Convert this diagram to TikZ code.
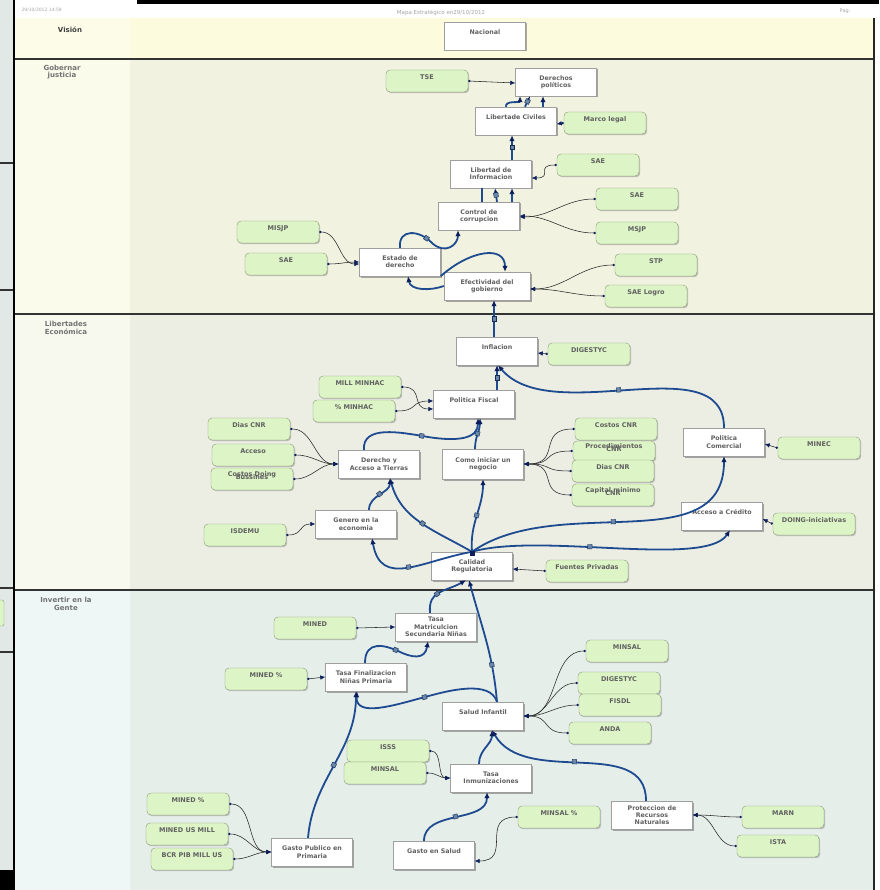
\documentclass[tikz,border=0pt]{standalone}
\usepackage{fontspec}
\setmainfont{DejaVu Sans}
\usetikzlibrary{arrows,arrows.meta,shapes,positioning,shadows,decorations.markings}

\definecolor{bluec}{HTML}{1E4A90}
\definecolor{navy}{HTML}{0C1F5C}
\definecolor{sqc}{HTML}{6A86A8}
\definecolor{greenbox}{HTML}{DDF5C6}
\definecolor{greenline}{HTML}{8C9A78}
\definecolor{txt}{HTML}{606060}
\definecolor{visA}{HTML}{FCFCE8}
\definecolor{visB}{HTML}{FDFBDD}
\definecolor{gobA}{HTML}{FAFBEA}
\definecolor{gobB}{HTML}{F1F2DF}
\definecolor{libA}{HTML}{F7F9EF}
\definecolor{libB}{HTML}{ECEEE4}
\definecolor{invA}{HTML}{EEF6F6}
\definecolor{invB}{HTML}{E6EEEA}
\definecolor{strip}{HTML}{E2E8E6}

\tikzset{
  obj/.style={draw=gray!75, fill=white, minimum width=81pt, minimum height=28pt,
    align=center, inner sep=1pt, text=txt, font=\bfseries\fontsize{6.3}{7.3}\selectfont,
    drop shadow={shadow xshift=1.5pt, shadow yshift=-1.5pt, fill=black!55, opacity=.6}},
  ind/.style={draw=greenline, fill=greenbox, rounded corners=4pt, minimum width=82pt,
    minimum height=22pt, align=center, inner sep=1pt, text=txt,
    font=\bfseries\fontsize{6.5}{7}\selectfont,
    drop shadow={shadow xshift=1.2pt, shadow yshift=-1.2pt, fill=black!45, opacity=.5}},
  lanelab/.style={align=center, text=gray!90!black, font=\bfseries\fontsize{7}{7.5}\selectfont},
  blueline/.style={draw=bluec, line width=1.8pt, -{Latex[length=6pt,width=5.5pt,color=navy]}},
  thinline/.style={draw=black!85, line width=0.55pt,
    {Circle[length=2.4pt,color=navy]}-{Latex[length=5pt,width=4.5pt,color=navy]}},
  midsq/.style={postaction={decorate, decoration={markings,
    mark=at position #1 with {\filldraw[fill=sqc, draw=bluec!60!black, line width=.4pt] (-2.2pt,-2.2pt) rectangle (2.2pt,2.2pt);}}}},
}

\begin{document}
\begin{tikzpicture}[x=1pt, y=-1pt]
\useasboundingbox (0,0) rectangle (879,890);

% % % % % % % % % % % % % % % % page and lanes % % % % % % % % % % % % % % % %
\fill[black] (0,0) rectangle (879,890);
\fill[strip] (0,0) rectangle (13,870);
\draw[black!80, line width=1.5pt] (0,163) -- (13,163);
\draw[black!80, line width=1.5pt] (0,290) -- (13,290);
\draw[black!80, line width=1.5pt] (0,588) -- (13,588);
\draw[black!80, line width=1.5pt] (0,652) -- (13,652);
\fill[greenbox, draw=greenline, rounded corners=2pt] (-4,600) rectangle (4,626);
\fill[white] (14,0) rectangle (137,4);
\fill[white] (14,4) rectangle (879,890);

\fill[visA] (14,18) rectangle (130,58);
\fill[visB] (130,18) rectangle (873,58);
\fill[gobA] (14,60) rectangle (130,313);
\fill[gobB] (130,60) rectangle (873,313);
\fill[libA] (14,315) rectangle (130,589);
\fill[libB] (130,315) rectangle (873,589);
\fill[invA] (14,591) rectangle (130,890);
\fill[invB] (130,591) rectangle (873,890);

\draw[black!80, line width=2.4pt] (14,59) -- (874,59);
\draw[black!80, line width=2.4pt] (14,314) -- (874,314);
\draw[black!80, line width=2.4pt] (14,590) -- (874,590);
\draw[black!85, line width=1.6pt] (874,18) -- (874,890);
\draw[black, line width=1.2pt] (14,0) -- (14,890);

\node[anchor=west, text=gray!70, font=\fontsize{4.5}{5}\selectfont] (fecha) at (18,10) {29/10/2012 14:59};
\node[text=gray!70, font=\fontsize{5.5}{6}\selectfont] (titulo) at (441,13) {Mapa Estratégico en29/10/2012};
\node[text=gray!70, font=\fontsize{5}{6}\selectfont] (pag) at (845,11) {Pag.};

\node[lanelab, text=black!75] (lvis) at (70,30) {Visión};
\node[lanelab] (lgob) at (62,72) {Gobernar\\justicia};
\node[lanelab] (llib) at (66,328) {Libertades\\Económica};
\node[lanelab] (linv) at (66,604) {Invertir en la\\Gente};

% % % % % % % % % % % % % % % % objectives % % % % % % % % % % % % % % % %
\node[obj] (nac) at (485,36) {Nacional\\\mbox{}};
\node[obj] (derpol) at (556,82) {Derechos\\políticos};
\node[obj] (libciv) at (516,121) {Libertade Civiles\\\mbox{}};
\node[obj] (libinf) at (491,174) {Libertad de\\Informacion};
\node[obj] (ctrl) at (479,216) {Control de\\corrupcion};
\node[obj] (estado) at (400,262) {Estado de\\derecho};
\node[obj, minimum width=86pt] (efect) at (487,286) {Efectividad del\\gobierno};
\node[obj] (infl) at (497,351) {Inflacion\\\mbox{}};
\node[obj] (fiscal) at (474,404) {Politica Fiscal\\\mbox{}};
\node[obj] (dertie) at (379,464) {Derecho y\\Acceso a Tierras};
\node[obj, minimum height=30pt] (como) at (483,464) {Como iniciar un\\negocio};
\node[obj] (polcom) at (724,442) {Politica\\Comercial};
\node[obj] (genero) at (356,524) {Genero en la\\economia};
\node[obj] (credito) at (722,516) {Acceso a Crédito\\\mbox{}};
\node[obj] (calidad) at (472,566) {Calidad\\Regulatoria};
\node[obj] (tmat) at (436,627) {Tasa\\Matriculcion\\Secundaria Niñas};
\node[obj] (tfin) at (366,677) {Tasa Finalizacion\\Niñas Primaria};
\node[obj] (salud) at (483,716) {Salud Infantil\\\mbox{}};
\node[obj] (tinm) at (491,778) {Tasa\\Inmunizaciones};
\node[obj] (prot) at (652,815) {Proteccion de\\Recursos\\Naturales};
\node[obj] (gpub) at (312,852) {Gasto Publico en\\Primaria};
\node[obj] (gsal) at (434,855) {Gasto en Salud\\\mbox{}};

% % % % % % % % % % % % % % % % indicators % % % % % % % % % % % % % % % %
\node[ind] (tse) at (427,81) {TSE\\\mbox{}};
\node[ind] (marco) at (605,123) {Marco legal\\\mbox{}};
\node[ind] (saeA) at (598,165) {SAE\\\mbox{}};
\node[ind] (saeB) at (637,199) {SAE\\\mbox{}};
\node[ind] (msjp) at (637,233) {MSJP\\\mbox{}};
\node[ind] (misjp) at (278,232) {MISJP\\\mbox{}};
\node[ind] (saeC) at (286,264) {SAE\\\mbox{}};
\node[ind] (stp) at (656,265) {STP\\\mbox{}};
\node[ind] (saelog) at (646,296) {SAE Logro\\\mbox{}};
\node[ind] (digA) at (589,354) {DIGESTYC\\\mbox{}};
\node[ind] (millmin) at (360,387) {MILL MINHAC\\\mbox{}};
\node[ind] (pcminhac) at (354,411) {\% MINHAC\\\mbox{}};
\node[ind] (diasA) at (249,429) {Dias CNR\\\mbox{}};
\node[ind] (acceso) at (253,455) {Acceso\\\mbox{}};
\node[ind] (costos) at (252,479) {Costos Doing\\[-3.5pt]Bussines\\\mbox{}};
\node[ind] (costcnr) at (616,429) {Costos CNR\\\mbox{}};
\node[ind, minimum height=20pt] (proced) at (614,451) {Procedimientos\\[-3.5pt]CNR\\\mbox{}};
\node[ind] (diasB) at (613,471) {Dias CNR\\\mbox{}};
\node[ind] (capital) at (613,495) {Capital minimo\\[-3.5pt]CNR\\\mbox{}};
\node[ind] (minec) at (819,448) {MINEC\\\mbox{}};
\node[ind] (doing) at (814,524) {DOING-iniciativas\\\mbox{}};
\node[ind] (isdemu) at (245,535) {ISDEMU\\\mbox{}};
\node[ind] (fuentes) at (587,571) {Fuentes Privadas\\\mbox{}};
\node[ind] (mined) at (315,628) {MINED\\\mbox{}};
\node[ind] (minedpc) at (266,679) {MINED \%\\\mbox{}};
\node[ind] (minsalA) at (627,651) {MINSAL\\\mbox{}};
\node[ind] (digB) at (619,683) {DIGESTYC\\\mbox{}};
\node[ind] (fisdl) at (620,705) {FISDL\\\mbox{}};
\node[ind] (anda) at (610,733) {ANDA\\\mbox{}};
\node[ind] (isss) at (388,751) {ISSS\\\mbox{}};
\node[ind] (minsalB) at (385,773) {MINSAL\\\mbox{}};
\node[ind] (minedpcB) at (188,804) {MINED \%\\\mbox{}};
\node[ind] (minedus) at (187,834) {MINED US MILL\\\mbox{}};
\node[ind] (bcr) at (192,859) {BCR PIB MILL US\\\mbox{}};
\node[ind] (minsalpc) at (559,817) {MINSAL \%\\\mbox{}};
\node[ind] (marn) at (783,817) {MARN\\\mbox{}};
\node[ind] (ista) at (778,846) {ISTA\\\mbox{}};

% % % % % % % % % % % % % % % % objective links % % % % % % % % % % % % % % % %
\draw[blueline] ([xshift=-10pt]libciv.north) to[out=100,in=-90] ([xshift=-36pt]derpol.south);
\draw[blueline, midsq=.5] ([xshift=9pt]libciv.north) -- ([xshift=-26pt]derpol.south);
\draw[blueline] ([xshift=27pt]libciv.north) -- ([xshift=-13pt]derpol.south);
\draw[blueline, midsq=.5] ([xshift=21pt]libinf.north) -- ([xshift=-4pt]libciv.south);
\draw[blueline, -] ([xshift=3pt]ctrl.north) -- ([xshift=-9pt]libinf.south);
\draw[blueline, midsq=.5] ([xshift=18pt]ctrl.north) -- ([xshift=4pt]libinf.south);
\draw[blueline] ([xshift=33pt]ctrl.north) -- ([xshift=21pt]libinf.south);
\draw[blueline, midsq=.45] (estado.north) .. controls (398,228) and (420,230) .. (432,243)
  .. controls (445,255) and (458,245) .. ([xshift=-21pt]ctrl.south);
\draw[blueline] (efect.west) to[out=200,in=-80] ([xshift=8pt]estado.south);
\draw[blueline] (estado.south east) .. controls (470,250) and (505,245) .. ([xshift=18pt]efect.north);
\draw[blueline, midsq=.5] ([xshift=-3pt]infl.north) -- ([xshift=7pt]efect.south);

\draw[blueline, midsq=.5] ([xshift=23pt]fiscal.north) -- (infl.south);
\draw[blueline, midsq=.5] (polcom.north) to[out=90,in=-50,looseness=.9] ([xshift=1pt]infl.south);
\draw[blueline, midsq=.5] ([xshift=-8pt]como.north) to[out=90,in=-90] ([xshift=6pt]fiscal.south);
\draw[blueline, midsq=.5] ([xshift=-15pt]dertie.north) .. controls (362,425) and (400,432) .. (428,437)
  .. controls (460,442) and (478,438) .. ([xshift=4pt]fiscal.south);
\draw[blueline, midsq=.55] (calidad.north) to[out=190,in=-80,looseness=1.3] ([xshift=16pt]genero.south);
\draw[blueline, midsq=.5] (calidad.north) to[out=150,in=-75] ([xshift=11pt]dertie.south);
\draw[blueline, midsq=.5] (calidad.north) to[out=95,in=-90] (como.south);
\draw[blueline, midsq=.5] (calidad.north) to[out=35,in=-90] (polcom.south);
\draw[blueline, midsq=.45] (calidad.north) .. controls (540,532) and (705,568) .. ([xshift=8pt]credito.south);
\draw[blueline, midsq=.5] ([xshift=13pt]genero.north) to[out=90,in=-90] ([xshift=11pt]dertie.south);
\fill[navy] ([xshift=-2.5pt,yshift=1pt]calidad.north) rectangle ++(5,5);

\draw[blueline, midsq=.4] ([xshift=-6pt]tmat.north) .. controls (428,590) and (445,592) .. ([xshift=-6pt]calidad.south);
\draw[blueline, midsq=.3] ([xshift=14pt]salud.north) to[out=95,in=-75] ([xshift=-3pt]calidad.south);
\draw[blueline, midsq=.5] ([xshift=-1pt]tfin.north) .. controls (365,640) and (385,645) .. (398,651)
  .. controls (412,658) and (425,660) .. ([xshift=-8pt]tmat.south);
\draw[blueline, midsq=.5] ([xshift=14pt]salud.north) .. controls (490,680) and (450,690) .. (425,697)
  .. controls (395,705) and (355,718) .. ([xshift=-9pt]tfin.south);
\draw[blueline, midsq=.5] ([xshift=-4pt]gpub.north) to[out=85,in=-90] ([xshift=-10pt]tfin.south);
\draw[blueline] ([xshift=-12pt]tinm.north) to[out=90,in=-90] ([xshift=9pt]salud.south);
\draw[blueline, midsq=.5] ([xshift=-6pt]prot.north) to[out=90,in=-60] ([xshift=9pt]salud.south);
\draw[blueline, midsq=.5] ([xshift=-10pt]gsal.north) to[out=90,in=-90] ([xshift=-4pt]tinm.south);

% % % % % % % % % % % % % % % % indicator links % % % % % % % % % % % % % % % %
\draw[thinline] (tse.east) -- ([yshift=-1pt]derpol.west);
\draw[thinline] (marco.west) -- ([yshift=-3pt]libciv.east);
\draw[thinline] (saeA.west) to[out=180,in=0,looseness=2] ([yshift=-4pt]libinf.east);
\draw[thinline] (saeB.west) to[out=180,in=0] ([yshift=-1pt]ctrl.east);
\draw[thinline] (msjp.west) to[out=180,in=0] (ctrl.east);
\draw[thinline] (misjp.east) to[out=0,in=180] ([yshift=-2pt]estado.west);
\draw[thinline] (saeC.east) to[out=0,in=180] (estado.west);
\draw[thinline] (stp.west) to[out=180,in=0] ([yshift=-3pt]efect.east);
\draw[thinline] (saelog.west) to[out=180,in=0] ([yshift=-3pt]efect.east);
\draw[thinline] (digA.west) -- ([yshift=-2pt]infl.east);
\draw[thinline] (millmin.east) to[out=0,in=180,looseness=1.5] ([yshift=-5pt]fiscal.west);
\draw[thinline] (pcminhac.east) to[out=0,in=180,looseness=1.5] ([yshift=3pt]fiscal.west);
\draw[thinline] (diasA.east) to[out=0,in=180] (dertie.west);
\draw[thinline] (acceso.east) to[out=0,in=180] (dertie.west);
\draw[thinline] (costos.east) to[out=0,in=180] (dertie.west);
\draw[thinline] (costcnr.west) to[out=180,in=0,looseness=1.6] (como.east);
\draw[thinline] (proced.west) to[out=180,in=0,looseness=1.6] (como.east);
\draw[thinline] (diasB.west) to[out=180,in=0,looseness=1.6] (como.east);
\draw[thinline] (capital.west) to[out=180,in=0,looseness=1.6] (como.east);
\draw[thinline] (minec.west) -- ([yshift=-2pt]polcom.east);
\draw[thinline] (doing.west) -- ([yshift=-3pt]credito.east);
\draw[thinline] (isdemu.east) to[out=0,in=180,looseness=1.4] (genero.west);
\draw[thinline] (fuentes.west) -- ([yshift=-3pt]calidad.east);
\draw[thinline] (mined.east) -- (tmat.west);
\draw[thinline] (minedpc.east) -- (tfin.west);
\draw[thinline] (minsalA.west) to[out=180,in=0] (salud.east);
\draw[thinline] (digB.west) to[out=180,in=0] (salud.east);
\draw[thinline] (fisdl.west) to[out=180,in=0] (salud.east);
\draw[thinline] (anda.west) to[out=180,in=0,looseness=1.5] (salud.east);
\draw[thinline] (isss.east) to[out=0,in=180] (tinm.west);
\draw[thinline] (minsalB.east) to[out=0,in=180] (tinm.west);
\draw[thinline] (minedpcB.east) to[out=0,in=180] (gpub.west);
\draw[thinline] (minedus.east) to[out=0,in=180] (gpub.west);
\draw[thinline] (bcr.east) to[out=0,in=180] (gpub.west);
\draw[thinline] (minsalpc.west) to[out=180,in=0,looseness=1.6] ([yshift=-6pt]gsal.east);
\draw[thinline] (marn.west) to[out=180,in=0] (prot.east);
\draw[thinline] (ista.west) to[out=180,in=0] (prot.east);
\end{tikzpicture}
\end{document}
